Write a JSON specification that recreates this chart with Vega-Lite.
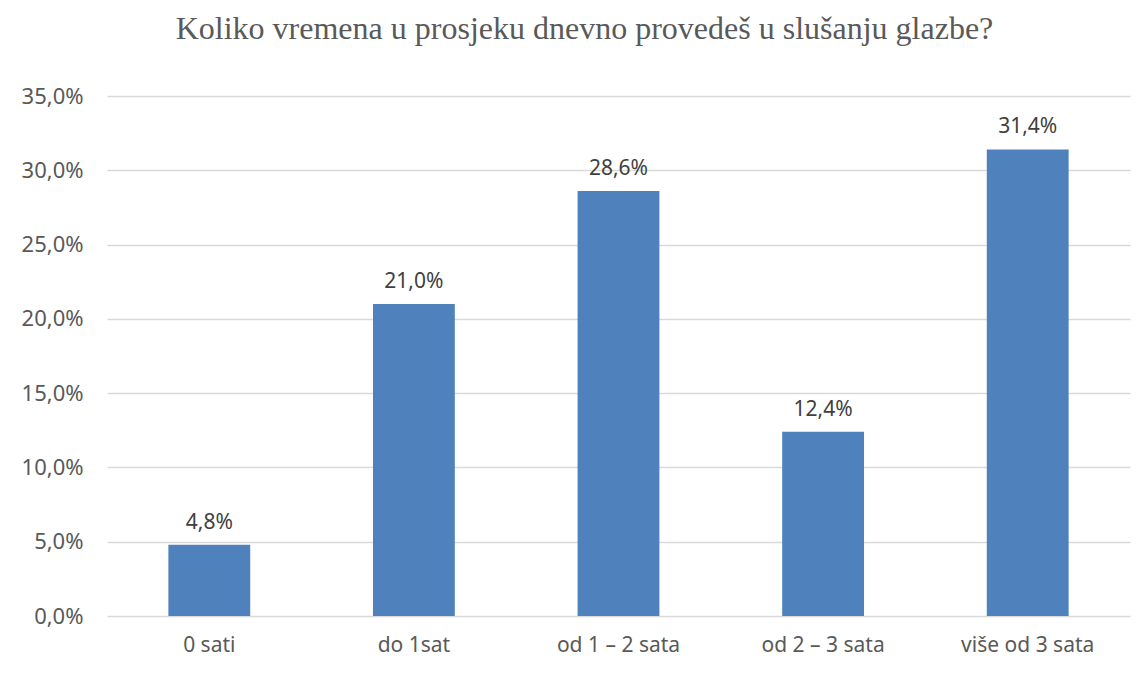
{
  "$schema": "https://vega.github.io/schema/vega-lite/v6.json",
  "width": 1023,
  "height": 520,
  "autosize": {"type": "none"},
  "padding": {"left": 107, "top": 96, "right": 17, "bottom": 59},
  "background": "white",
  "config": {
    "locale": {"number": {"decimal": ",", "thousands": ".", "grouping": [3], "currency": ["", " €"]}},
    "view": {"stroke": null},
    "font": "Noto Sans"
  },
  "title": {
    "text": "Koliko vremena u prosjeku dnevno provedeš u slušanju glazbe?",
    "font": "Liberation Serif",
    "fontSize": 32,
    "fontWeight": "normal",
    "color": "#595959",
    "anchor": "middle",
    "frame": "group",
    "baseline": "alphabetic",
    "offset": 14,
    "dx": -34
  },
  "data": {
    "values": [
      {"kategorija": "0 sati", "udio": 0.048},
      {"kategorija": "do 1sat", "udio": 0.21},
      {"kategorija": "od 1 – 2 sata", "udio": 0.286},
      {"kategorija": "od 2 – 3 sata", "udio": 0.124},
      {"kategorija": "više od 3 sata", "udio": 0.314}
    ]
  },
  "encoding": {
    "x": {
      "field": "kategorija",
      "type": "nominal",
      "sort": null,
      "scale": {"paddingInner": 0.6, "paddingOuter": 0.3},
      "axis": {
        "title": null,
        "labelAngle": 0,
        "labelFontSize": 21,
        "labelColor": "#595959",
        "labelPadding": 18,
        "ticks": false,
        "domain": false,
        "grid": false
      }
    },
    "y": {
      "field": "udio",
      "type": "quantitative",
      "scale": {"domain": [0, 0.35]},
      "axis": {
        "title": null,
        "values": [0, 0.05, 0.1, 0.15, 0.2, 0.25, 0.3, 0.35],
        "format": ".1%",
        "labelFontSize": 22,
        "labelColor": "#595959",
        "labelPadding": 24,
        "ticks": false,
        "domain": false,
        "grid": true,
        "gridColor": "#d9d9d9",
        "gridWidth": 1.3
      }
    }
  },
  "layer": [
    {"mark": {"type": "bar", "color": "#4F81BD"}},
    {
      "mark": {"type": "text", "baseline": "bottom", "dy": -12, "fontSize": 21, "color": "#404040"},
      "encoding": {"text": {"field": "udio", "format": ".1%"}}
    }
  ]
}
